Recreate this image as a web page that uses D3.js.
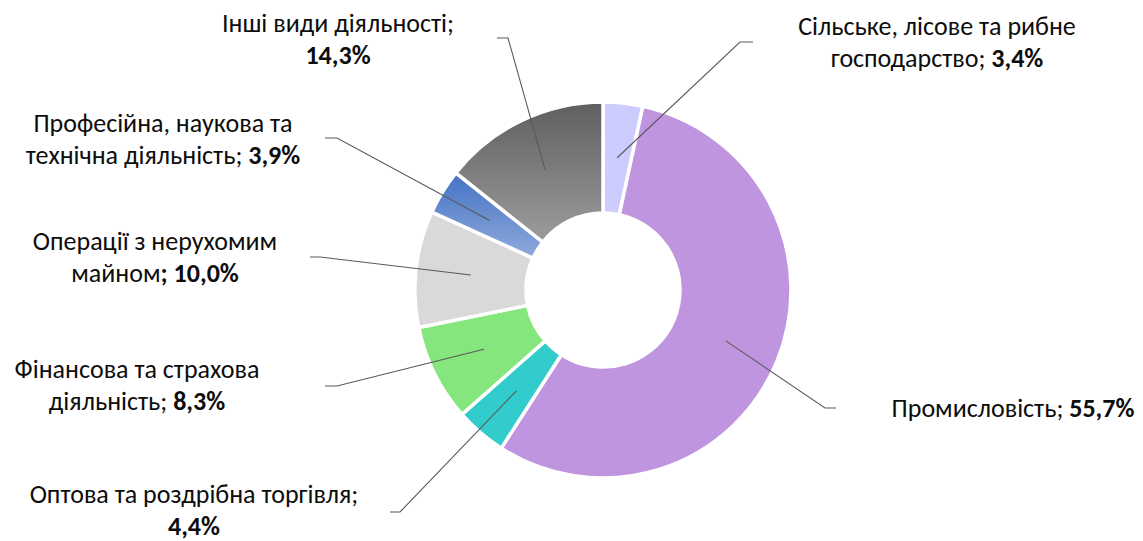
<!DOCTYPE html>
<html><head><meta charset="utf-8">
<script src="https://cdn.jsdelivr.net/npm/d3@7"></script>
<style>
html,body{margin:0;padding:0;background:#fff;}
svg{display:block;}
text{font-family:Calibri,Carlito,Roboto,"Noto Sans",sans-serif;fill:#0d0d0d;}
</style></head>
<body>
<svg id="chart" width="1143" height="541"></svg>
<script>
// ---- data ----
const categories = [
  "Сільське, лісове та рибне господарство",
  "Промисловість",
  "Оптова та роздрібна торгівля",
  "Фінансова та страхова діяльність",
  "Операції з нерухомим майном",
  "Професійна, наукова та технічна діяльність",
  "Інші види діяльності"
];
const values = [3.4, 55.7, 4.4, 8.3, 10.0, 3.9, 14.3];
// label lines; text after "|" is bold, {v} is the value
const labelLines = [
  ["Сільське, лісове та рибне", "господарство; |{v}"],
  ["Промисловість; |{v}"],
  ["Оптова та роздрібна торгівля;", "|{v}"],
  ["Фінансова та страхова", "діяльність; |{v}"],
  ["Операції з нерухомим", "майном|; {v}"],
  ["Професійна, наукова та", "технічна діяльність; |{v}"],
  ["Інші види діяльності;", "|{v}"]
];

// ---- layout / style ----
const colors = ["#CCCCFF", "#BF95DF", "#33CCCC", "#85E67E", "#D9D9D9", "url(#gBlue)", "url(#gGray)"];
const labelPos = [[937,35],[1013,417],[194,503],[137,378],[155,250],[163,132],[338,32]];
const elbows = [[740,42,753],[825,408,836],[400,512,390],[337,386,325],[320,257,310],[337,138,325],[508,38,497]];
const cx = 603, cy = 290, R = 188, r0 = 77;
const lineH = 31.5, fontSize = 26;

const locale = d3.formatLocale({decimal: ",", thousands: " ", grouping: [3], currency: ["", ""]});
const fmt = v => locale.format(".1f")(v) + "%";

const svg = d3.select("#chart");
const defs = svg.append("defs");
const gb = defs.append("linearGradient").attr("id","gBlue").attr("x1",0).attr("y1",0).attr("x2",0).attr("y2",1);
gb.append("stop").attr("offset","0%").attr("stop-color","#4472C4");
gb.append("stop").attr("offset","100%").attr("stop-color","#8FAADC");
const gg = defs.append("linearGradient").attr("id","gGray").attr("x1",0).attr("y1",0).attr("x2",0).attr("y2",1);
gg.append("stop").attr("offset","0%").attr("stop-color","#5F5F5F");
gg.append("stop").attr("offset","100%").attr("stop-color","#9C9C9C");

const pie = d3.pie().sort(null).value(d => d);
const arcs = pie(values);
const arc = d3.arc().innerRadius(r0).outerRadius(R);
const midArc = d3.arc().innerRadius(133).outerRadius(133);

const g = svg.append("g").attr("transform", `translate(${cx},${cy})`);
g.selectAll("path.slice").data(arcs).join("path")
  .attr("class","slice")
  .attr("d", arc)
  .attr("fill", (d,i) => colors[i])
  .attr("stroke", "#fff")
  .attr("stroke-width", 3.5)
  .attr("stroke-linejoin","miter");

// leader lines
svg.append("g").selectAll("polyline").data(arcs).join("polyline")
  .attr("points", (d,i) => {
    const c = midArc.centroid(d);
    const e = elbows[i];
    return [[cx + c[0], cy + c[1]], [e[0], e[1]], [e[2], e[1]]].map(p => p.join(",")).join(" ");
  })
  .attr("fill","none")
  .attr("stroke","#595959")
  .attr("stroke-width",1.1);

// labels
const lg = svg.append("g");
arcs.forEach((d,i) => {
  labelLines[i].forEach((ln, j) => {
    const s = ln.replace("{v}", fmt(values[i]));
    const parts = s.split("|");
    const t = lg.append("text")
      .attr("x", labelPos[i][0]).attr("y", labelPos[i][1] + j*lineH)
      .attr("text-anchor","middle")
      .attr("font-size", fontSize);
    if (parts[0]) t.append("tspan").text(parts[0]);
    if (parts.length > 1) t.append("tspan").attr("font-weight","bold").text(parts[1]);
  });
});
</script>
</body></html>
